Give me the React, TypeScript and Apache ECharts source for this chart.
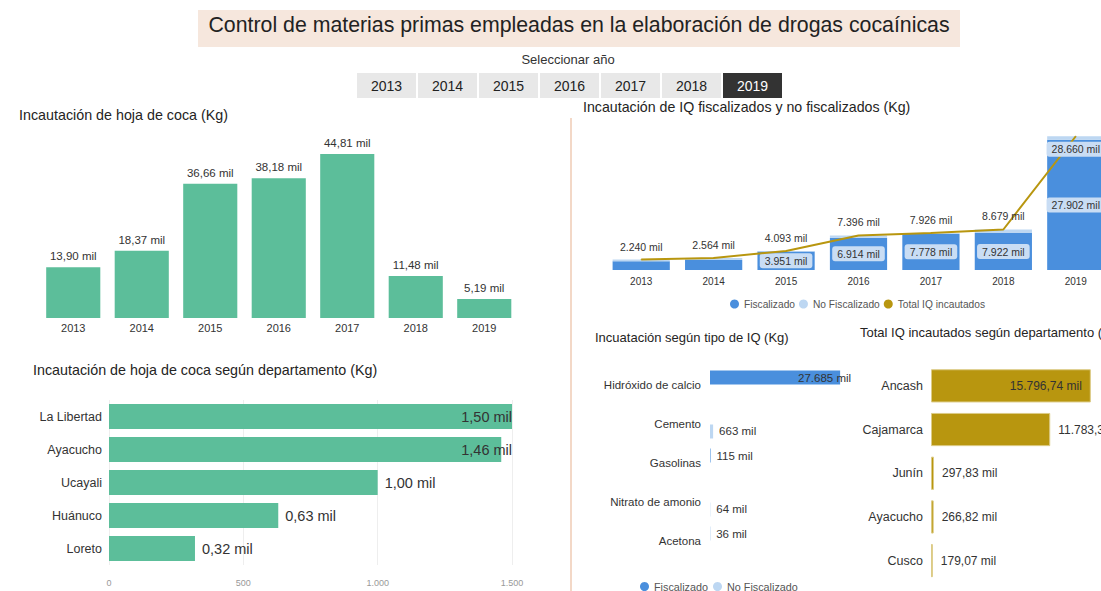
import React, { useEffect, useRef } from 'react';
import * as echarts from 'echarts';

// ---------- data ----------
const years = ['2013', '2014', '2015', '2016', '2017', '2018', '2019'];
const selectedYear = '2019';
const cocaLeafKg = [13900, 18370, 36660, 38180, 44810, 11480, 5190];

const cocaDepts = ['La Libertad', 'Ayacucho', 'Ucayali', 'Huánuco', 'Loreto'];
const cocaDeptKg = [1500, 1460, 1000, 630, 320];
const cocaDeptTicks = { min: 0, max: 1500, interval: 500 };

// IQ values in "mil" (thousands of kg)
const iqFiscalizado = [1850, 2150, 3951, 6914, 7778, 7922, 27902];
const iqNoFiscalizado = [390, 414, 142, 482, 148, 757, 758];
const iqTotal = [2240, 2564, 4093, 7396, 7926, 8679, 28660];

const iqTypes = ['Hidróxido de calcio', 'Cemento', 'Gasolinas', 'Nitrato de amonio', 'Acetona'];
const iqTypeFisc = [27685, 0, 115, 0, 36];
const iqTypeNoFisc = [0, 663, 0, 64, 0];

const iqDepts = ['Ancash', 'Cajamarca', 'Junín', 'Ayacucho', 'Cusco'];
const iqDeptTotal = [15796.74, 11783.35, 297.83, 266.82, 179.07];

// ---------- style ----------
const FONT = '"Liberation Sans", Arial, sans-serif';
const GREEN = '#5CBE9A';
const BLUE = '#4A8FDD';
const LIGHT_BLUE = '#BDD7F2';
const GOLD = '#B8960F';
const TEXT = '#252423';

const groupThousands = (s: string) => s.replace(/\B(?=(\d{3})+(?!\d))/g, '.');
const fmtKgMil2 = (kg: number) => (kg / 1000).toFixed(2).replace('.', ',') + ' mil';
const fmtMilInt = (v: number) => groupThousands(Math.round(v).toString()) + ' mil';
const fmtMilDec = (v: number) => {
  const [i, d] = v.toFixed(2).split('.');
  return groupThousands(i) + ',' + d + ' mil';
};

export default function App() {
  const ref = useRef<HTMLDivElement>(null);

  useEffect(() => {
    if (!ref.current) return;
    const chart = echarts.init(ref.current, undefined, { renderer: 'svg' });

    const slicerX0 = 357;
    const slicerStep = 61;
    const slicer: any[] = [];
    years.forEach((y, i) => {
      const sel = y === selectedYear;
      slicer.push({
        type: 'rect',
        shape: { x: slicerX0 + i * slicerStep, y: 73, width: 59, height: 25 },
        style: { fill: sel ? '#333333' : '#E8E8E8' },
      });
      slicer.push({
        type: 'text',
        x: slicerX0 + i * slicerStep + 29.5,
        y: 86,
        style: {
          text: y,
          fill: sel ? '#FFFFFF' : '#222222',
          fontSize: 14,
          fontFamily: FONT,
          textAlign: 'center',
          textVerticalAlign: 'middle',
        },
      });
    });

    const title = (text: string, x: number, y: number, size: number) => ({
      type: 'text',
      x,
      y,
      style: { text, fill: TEXT, fontSize: size, fontFamily: FONT, textAlign: 'left', textVerticalAlign: 'middle' },
    });

    const cocaDeptMax = cocaDeptTicks.max;
    const iqDeptMax = 17000;

    const legendText = { fontSize: 10.2, color: '#555', fontFamily: FONT };

    const option: any = {
      animation: false,
      textStyle: { fontFamily: FONT },
      graphic: [
        { type: 'rect', shape: { x: 198, y: 10, width: 762, height: 37 }, style: { fill: '#F6E7DD' } },
        {
          type: 'text',
          x: 579,
          y: 25,
          style: {
            text: 'Control de materias primas empleadas en la elaboración de drogas cocaínicas',
            fill: '#222222',
            fontSize: 21.3,
            fontFamily: FONT,
            textAlign: 'center',
            textVerticalAlign: 'middle',
          },
        },
        {
          type: 'text',
          x: 568,
          y: 59,
          style: { text: 'Seleccionar año', fill: '#333', fontSize: 13, fontFamily: FONT, textAlign: 'center', textVerticalAlign: 'middle' },
        },
        ...slicer,
        { type: 'line', shape: { x1: 571, y1: 118, x2: 571, y2: 591 }, style: { stroke: '#F3D8C7', lineWidth: 2 } },
        title('Incautación de hoja de coca (Kg)', 19, 115, 14.3),
        title('Incautación de hoja de coca según departamento (Kg)', 33, 370, 14.3),
        title('Incautación de IQ fiscalizados y no fiscalizados (Kg)', 583, 107, 14.2),
        title('Incuatación según tipo de IQ (Kg)', 595, 337, 13),
        title('Total IQ incautados según departamento (Kg)', 860, 332, 13),
      ],
      legend: [
        {
          left: 730,
          top: 299,
          padding: 0,
          data: ['Fiscalizado', 'No Fiscalizado', 'Total IQ incautados'],
          icon: 'circle',
          itemWidth: 9,
          itemHeight: 9,
          itemGap: 4,
          textStyle: legendText,
        },
        {
          left: 640,
          top: 581,
          padding: 0,
          data: ['Fiscalizado', 'No Fiscalizado'],
          icon: 'circle',
          itemWidth: 9,
          itemHeight: 9,
          itemGap: 5,
          textStyle: { ...legendText, fontSize: 10.8 },
        },
      ],
      grid: [
        { left: 39, top: 135, width: 479.5, height: 183 },
        { left: 109, top: 400, width: 403, height: 165 },
        { left: 605, top: 130, width: 507, height: 140 },
        { left: 710, top: 365.5, width: 141, height: 195 },
        { left: 931, top: 364, width: 172, height: 218.5 },
      ],
      xAxis: [
        {
          gridIndex: 0,
          type: 'category',
          data: years,
          axisLine: { show: false },
          axisTick: { show: false },
          axisLabel: { fontSize: 11, color: '#333', margin: 4 },
        },
        {
          gridIndex: 1,
          type: 'value',
          min: cocaDeptTicks.min,
          max: cocaDeptTicks.max,
          interval: cocaDeptTicks.interval,
          axisLine: { show: false },
          axisTick: { show: false },
          splitLine: { show: true, lineStyle: { color: '#EEEEEE' } },
          axisLabel: { fontSize: 9, color: '#999', margin: 13, formatter: (v: number) => groupThousands(String(v)) },
        },
        {
          gridIndex: 2,
          type: 'category',
          data: years,
          axisLine: { show: false },
          axisTick: { show: false },
          axisLabel: { fontSize: 10, color: '#333', margin: 6 },
        },
        { gridIndex: 3, type: 'value', min: 0, max: 30000, show: false },
        { gridIndex: 4, type: 'value', min: 0, max: iqDeptMax, show: false },
      ],
      yAxis: [
        { gridIndex: 0, type: 'value', min: 0, max: 50000, show: false },
        {
          gridIndex: 1,
          type: 'category',
          data: cocaDepts,
          inverse: true,
          axisLine: { show: false },
          axisTick: { show: false },
          axisLabel: { fontSize: 12.5, color: '#333', margin: 7 },
        },
        { gridIndex: 2, type: 'value', min: 0, max: 30000, show: false },
        {
          gridIndex: 3,
          type: 'category',
          data: iqTypes,
          inverse: true,
          axisLine: { show: false },
          axisTick: { show: false },
          axisLabel: { fontSize: 11.5, color: '#333', margin: 9 },
        },
        {
          gridIndex: 4,
          type: 'category',
          data: iqDepts,
          inverse: true,
          axisLine: { show: false },
          axisTick: { show: false },
          axisLabel: { fontSize: 12.5, color: '#333', margin: 8 },
        },
      ],
      series: [
        {
          type: 'bar',
          name: 'Hoja de coca',
          xAxisIndex: 0,
          yAxisIndex: 0,
          data: cocaLeafKg,
          barCategoryGap: '21%',
          itemStyle: { color: GREEN },
          label: {
            show: true,
            position: 'top',
            distance: 5,
            fontSize: 11.5,
            color: '#333',
            formatter: (p: any) => fmtKgMil2(p.value),
          },
        },
        {
          type: 'bar',
          name: 'Hoja de coca dept',
          xAxisIndex: 1,
          yAxisIndex: 1,
          barCategoryGap: '24%',
          itemStyle: { color: GREEN },
          data: cocaDeptKg.map((v) => {
            const inside = v / cocaDeptMax > 0.9;
            return {
              value: v,
              label: inside
                ? { position: 'insideRight', offset: [5 + (cocaDeptMax - v) / cocaDeptMax * 403, 0] }
                : { position: 'right', distance: 7 },
            };
          }),
          label: {
            show: true,
            fontSize: 14.5,
            color: '#333',
            formatter: (p: any) => fmtKgMil2(p.value),
          },
        },
        {
          type: 'bar',
          name: 'Fiscalizado',
          xAxisIndex: 2,
          yAxisIndex: 2,
          stack: 'iq',
          barCategoryGap: '21%',
          itemStyle: { color: BLUE },
          data: iqFiscalizado.map((v) => ({ value: v, label: { show: v >= 3000 } })),
          label: {
            position: 'inside',
            fontSize: 10.5,
            color: '#333',
            backgroundColor: '#C9DDF4',
            borderRadius: 3,
            padding: [2, 5],
            formatter: (p: any) => fmtMilInt(p.value),
          },
        },
        {
          type: 'bar',
          name: 'No Fiscalizado',
          xAxisIndex: 2,
          yAxisIndex: 2,
          stack: 'iq',
          itemStyle: { color: LIGHT_BLUE },
          data: iqNoFiscalizado,
        },
        {
          type: 'line',
          name: 'Total IQ incautados',
          xAxisIndex: 2,
          yAxisIndex: 2,
          symbol: 'circle',
          symbolSize: 1,
          z: 5,
          itemStyle: { color: GOLD },
          lineStyle: { color: GOLD, width: 2 },
          data: iqTotal.map((v, i) =>
            i === iqTotal.length - 1
              ? {
                  value: v,
                  label: { position: 'bottom', distance: 5, backgroundColor: '#C9DDF4', borderRadius: 3, padding: [2, 5] },
                }
              : { value: v }
          ),
          label: {
            show: true,
            position: 'top',
            distance: 7,
            fontSize: 10.5,
            color: '#333',
            formatter: (p: any) => fmtMilInt(p.value),
          },
        },
        {
          type: 'bar',
          name: 'Fiscalizado',
          xAxisIndex: 3,
          yAxisIndex: 3,
          barWidth: 14,
          barGap: '7%',
          itemStyle: { color: BLUE },
          data: iqTypeFisc.map((v) => ({
            value: v,
            label: v === 0 ? { show: false } : v > 20000 ? { position: 'insideRight', offset: [16, 0] } : { position: 'right', distance: 6 },
          })),
          label: { show: true, fontSize: 11.5, color: '#333', formatter: (p: any) => fmtMilInt(p.value) },
        },
        {
          type: 'bar',
          name: 'No Fiscalizado',
          xAxisIndex: 3,
          yAxisIndex: 3,
          barWidth: 14,
          barGap: '7%',
          itemStyle: { color: LIGHT_BLUE },
          data: iqTypeNoFisc.map((v) => ({
            value: v,
            label: v === 0 ? { show: false } : { position: 'right', distance: 6 },
          })),
          label: { show: true, fontSize: 11.5, color: '#333', formatter: (p: any) => fmtMilInt(p.value) },
        },
        {
          type: 'bar',
          name: 'Total IQ dept',
          xAxisIndex: 4,
          yAxisIndex: 4,
          barCategoryGap: '24%',
          itemStyle: { color: GOLD, borderColor: '#DCCB86', borderWidth: 1 },
          data: iqDeptTotal.map((v) => ({
            value: v,
            label: v / iqDeptMax > 0.9 ? { position: 'insideRight', distance: 9 } : { position: 'right', distance: 8 },
          })),
          label: { show: true, fontSize: 12, color: '#333', formatter: (p: any) => fmtMilDec(p.value) },
        },
      ],
    };

    chart.setOption(option);
    return () => chart.dispose();
  }, []);

  return (
    <div style={{ position: 'fixed', left: 0, top: 0, width: 1101, height: 591, overflow: 'hidden', background: '#FFFFFF' }}>
      <div ref={ref} style={{ position: 'absolute', left: 0, top: 0, width: 1140, height: 591 }} />
    </div>
  );
}
